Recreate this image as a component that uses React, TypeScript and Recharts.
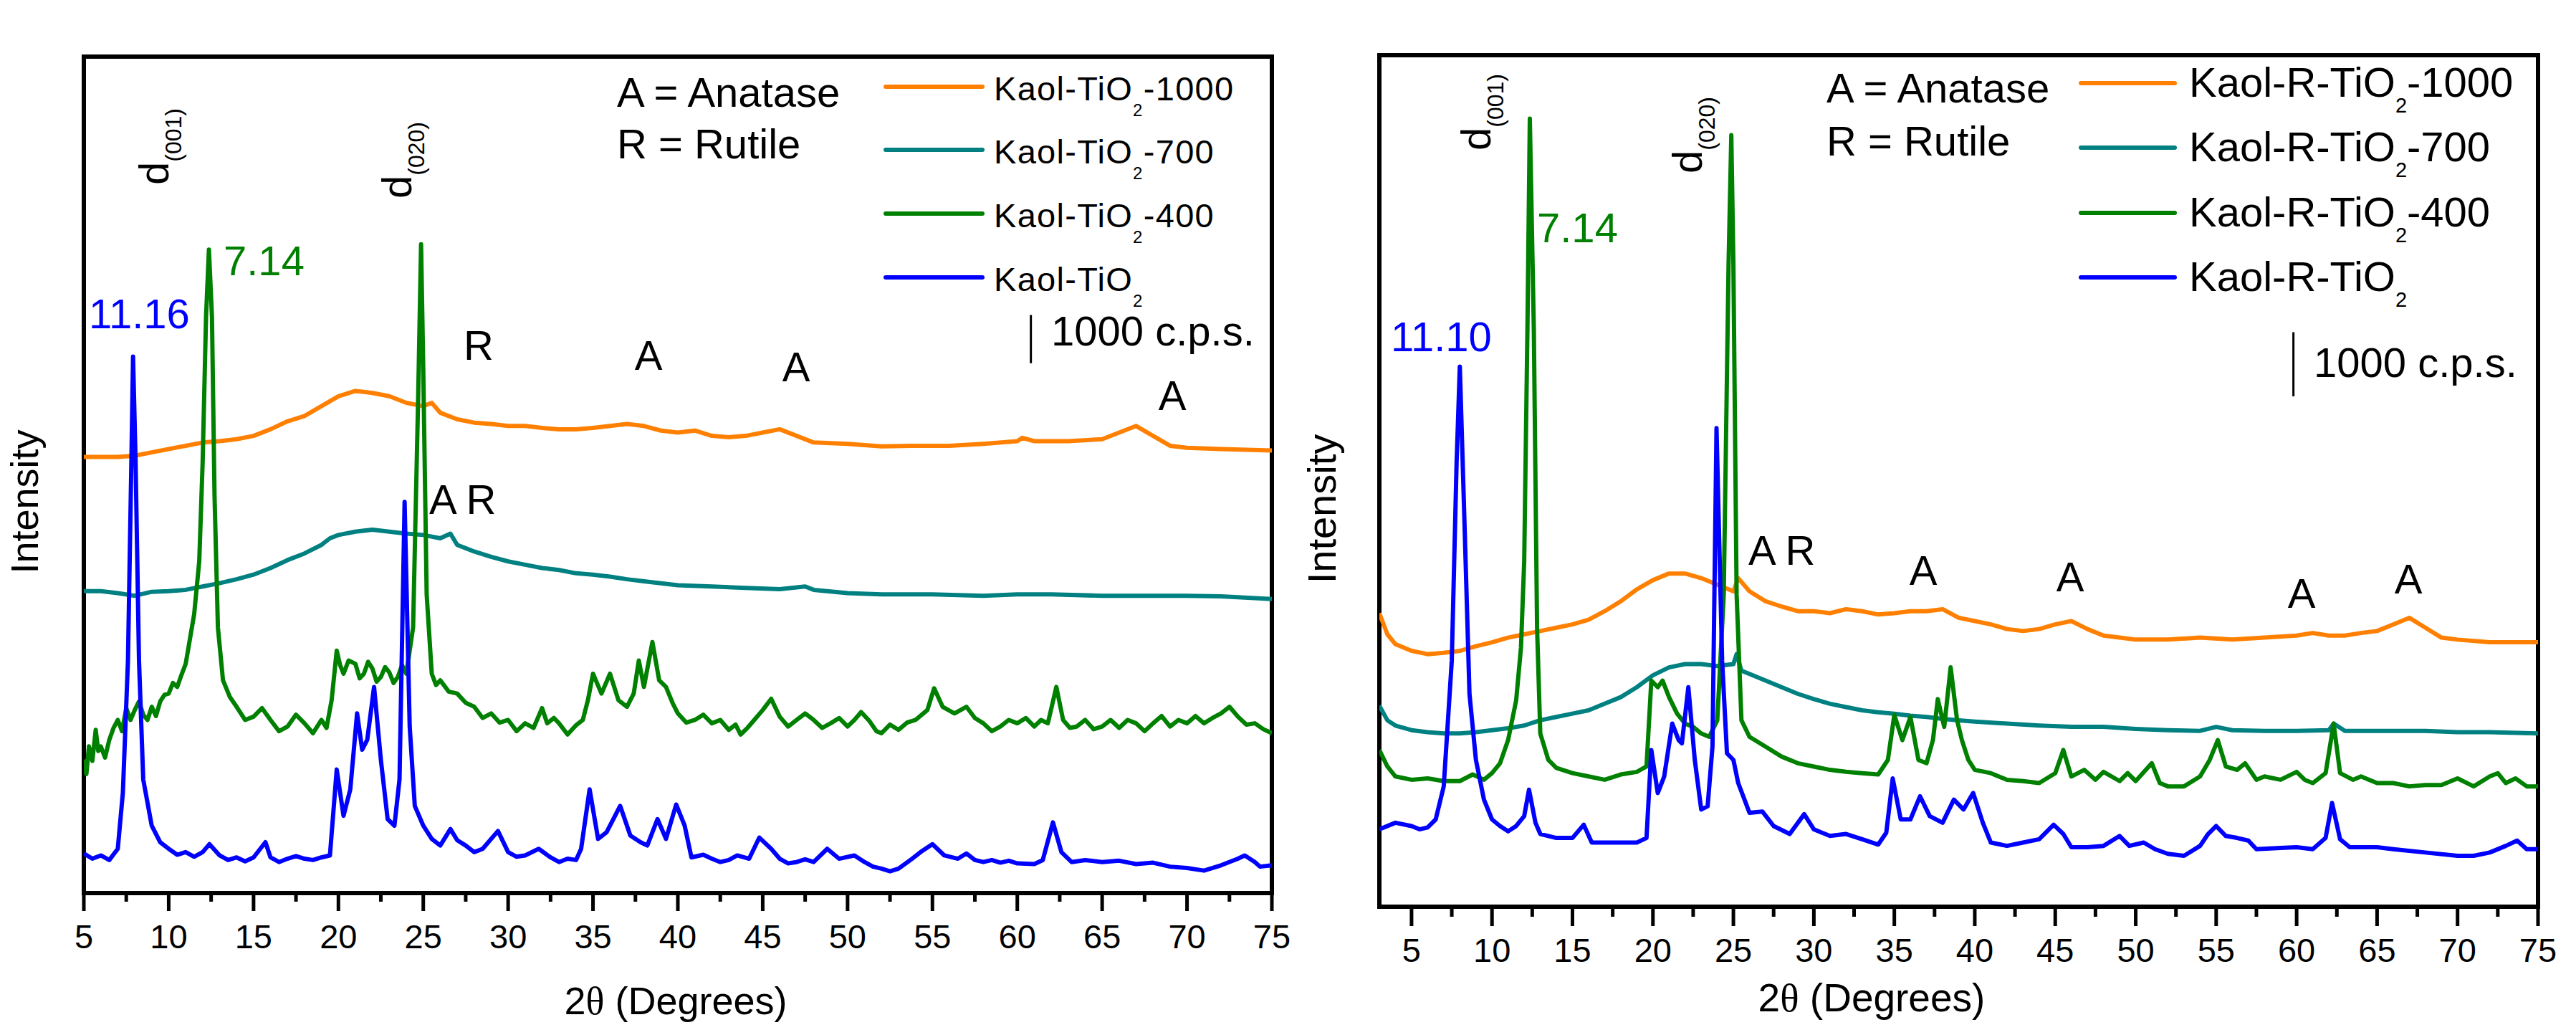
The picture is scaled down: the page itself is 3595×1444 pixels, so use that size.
import React from "react";
import { LineChart, Line, XAxis, YAxis, ReferenceArea, ReferenceLine } from "recharts";

type P = [number, number];

// ---------- Left panel (Kaol-TiO2 series), intensity in arbitrary units ----------
const leftBlue: P[] = [
  [5, 60], [5.5, 52], [6, 57], [6.5, 50], [7, 67], [7.3, 152], [7.6, 352], [7.8, 652], [7.9, 812], [8.05, 652], [8.25, 352], [8.5, 172],
  [9, 102], [9.5, 77], [10, 67], [10.5, 58], [11, 62], [11.5, 55], [12, 62], [12.4, 74], [13, 57], [13.5, 50], [14, 54], [14.5, 48], [15, 54], [15.7, 77],
  [16, 54], [16.5, 47], [17, 52], [17.5, 56], [18, 52], [18.5, 50], [19, 54], [19.5, 57], [19.9, 187], [20.3, 117], [20.7, 157], [21.1, 272], [21.4, 217],
  [21.7, 232], [22.1, 312], [22.5, 202], [22.9, 112], [23.3, 102], [23.6, 172], [23.9, 592], [24.2, 252], [24.5, 132], [25, 102],
  [25.5, 82], [26, 72], [26.6, 97], [27, 80], [27.5, 72], [28, 62], [28.5, 67], [29.4, 94], [30, 62], [30.5, 55], [31, 57], [31.8, 67],
  [32.5, 54], [33, 47], [33.5, 52], [34, 50], [34.3, 67], [34.8, 157], [35.3, 82], [35.8, 92], [36.6, 132], [37.2, 87], [37.8, 77], [38.2, 72],
  [38.8, 112], [39.3, 82], [39.9, 134], [40.4, 102], [40.8, 54], [41.5, 58], [42, 52], [42.5, 47], [43, 50], [43.5, 57], [44.2, 52], [44.8, 84],
  [45.5, 67], [46, 52], [46.5, 45], [47, 47], [47.5, 51], [48, 47], [48.8, 67], [49.5, 52], [50.4, 57], [51, 47], [51.5, 40], [52, 37], [52.5, 33], [53, 37],
  [53.8, 52], [54.3, 62], [55, 74], [55.7, 57], [56.5, 52], [57, 60], [57.5, 50], [58, 47], [58.5, 50], [59, 46], [59.5, 49], [60, 45],
  [61, 44], [61.5, 50], [62.1, 107], [62.6, 62], [63.2, 47], [64, 50], [65, 47], [66, 49], [67, 44], [68, 46], [69, 40], [70, 38], [71, 34], [72, 42],
  [73, 52], [73.4, 57], [74, 47], [74.3, 40], [75, 42],
];
const leftGreen: P[] = [
  [5, 202], [5.15, 180], [5.3, 222], [5.5, 200], [5.7, 247], [5.85, 215], [6, 222], [6.25, 205], [6.5, 232], [6.75, 250],
  [7, 262], [7.25, 245], [7.5, 280], [7.75, 262], [8, 277], [8.25, 290], [8.5, 270], [8.75, 262], [9, 282], [9.25, 268],
  [9.5, 290], [9.75, 300], [10, 302], [10.25, 318], [10.5, 312], [10.75, 330], [11, 347], [11.5, 422], [11.8, 502], [12, 652],
  [12.2, 872], [12.37, 974], [12.55, 872], [12.7, 602], [12.9, 402], [13.2, 322], [13.6, 297], [14, 282], [14.5, 262], [15, 267],
  [15.5, 280], [16, 262], [16.5, 245], [17, 252], [17.5, 270], [18, 257], [18.5, 242], [19, 262], [19.3, 250], [19.6, 292],
  [19.9, 367], [20.1, 345], [20.3, 332], [20.6, 352], [21, 347], [21.25, 325], [21.5, 332], [21.75, 350], [22, 340], [22.25, 320],
  [22.5, 327], [22.75, 342], [23, 334], [23.25, 318], [23.5, 327], [23.75, 345], [24, 332], [24.4, 402], [24.7, 752], [24.87, 982],
  [25, 792], [25.2, 452], [25.5, 332], [25.75, 315], [26, 322], [26.5, 305], [27, 302], [27.5, 288], [28, 282], [28.5, 265],
  [29, 272], [29.5, 258], [30, 262], [30.5, 245], [31, 257], [31.5, 250], [32, 280], [32.3, 257], [32.7, 265], [33, 257],
  [33.5, 240], [34, 254], [34.4, 262], [34.7, 292], [35, 332], [35.5, 302], [36, 332], [36.5, 292], [37, 282], [37.4, 302],
  [37.7, 352], [38, 312], [38.5, 380], [38.9, 322], [39.3, 312], [39.7, 287], [40, 272], [40.5, 258], [41, 262], [41.5, 270],
  [42, 257], [42.5, 262], [43, 247], [43.4, 255], [43.7, 240], [44.1, 250], [44.5, 262], [45, 277], [45.5, 294], [46, 267],
  [46.5, 252], [47, 262], [47.5, 272], [48, 262], [48.5, 250], [49, 257], [49.5, 265], [50, 252], [50.4, 262], [50.8, 274],
  [51.3, 260], [51.7, 245], [52, 242], [52.5, 255], [53, 247], [53.5, 258], [54, 262], [54.7, 277], [55.1, 310], [55.6, 282],
  [56.3, 272], [57, 282], [57.5, 265], [58, 257], [58.5, 245], [59, 252], [59.5, 262], [60, 257], [60.5, 265], [61, 252],
  [61.4, 262], [61.8, 257], [62.3, 312], [62.7, 262], [63.1, 250], [63.5, 252], [64, 262], [64.5, 248], [65, 252], [65.5, 262],
  [66, 250], [66.5, 262], [67, 257], [67.5, 245], [68, 257], [68.5, 268], [69, 252], [69.5, 262], [70, 257], [70.5, 268],
  [71, 257], [71.5, 265], [72, 272], [72.5, 282], [73, 267], [73.5, 255], [74, 257], [74.5, 248], [75, 242],
];
const leftTeal: P[] = [
  [5, 457], [6, 457], [7, 454], [8, 450], [9, 456], [10, 457], [11, 459], [12, 464], [13, 469], [14, 475],
  [15, 482], [16, 492], [17, 504], [18, 514], [19, 527], [19.5, 537], [20, 542], [21, 547], [22, 550], [23, 547],
  [24, 544], [25, 542], [26, 537], [26.6, 544], [27, 527], [28, 517], [29, 509], [30, 502], [31, 497], [32, 492],
  [33, 489], [34, 484], [35, 482], [36, 479], [37, 475], [38, 472], [39, 469], [40, 466], [42, 464], [44, 462],
  [46, 460], [47.5, 464], [48, 459], [50, 454], [52, 452], [55, 452], [58, 450], [60, 452], [62, 452], [65, 450],
  [68, 450], [70, 450], [72, 449], [75, 445],
];
const leftOrange: P[] = [
  [5, 660], [6, 660], [7, 660], [8, 662], [9, 667], [10, 672], [11, 677], [12, 682], [13, 684], [14, 687],
  [15, 692], [16, 702], [17, 714], [18, 722], [19, 737], [20, 752], [21, 760], [22, 757], [23, 752], [24, 742],
  [25, 737], [25.5, 742], [26, 727], [27, 717], [28, 712], [29, 710], [30, 707], [31, 707], [32, 704], [33, 702],
  [34, 702], [35, 704], [36, 707], [37, 710], [38, 707], [39, 700], [40, 697], [41, 700], [42, 692], [43, 690],
  [44, 692], [45, 697], [46, 702], [47, 692], [48, 682], [50, 680], [52, 676], [54, 677], [56, 677], [58, 680],
  [60, 684], [60.3, 689], [61, 684], [63, 684], [65, 687], [66, 697], [67, 707], [68, 692], [69, 677], [70, 674],
  [72, 672], [75, 670],
];

// ---------- Right panel (Kaol-R-TiO2 series) ----------
const rightBlue: P[] = [
  [3, 117], [4, 127], [5, 122], [5.5, 117], [6, 120], [6.5, 132], [7, 182], [7.5, 372], [7.8, 672], [8, 817],
  [8.3, 572], [8.6, 322], [9, 222], [9.5, 162], [10, 132], [10.5, 122], [11, 114], [11.5, 122], [12, 137], [12.3, 177],
  [12.7, 127], [13, 110], [14, 104], [15, 104], [15.7, 124], [16.2, 97], [17, 97], [18, 97], [19, 97], [19.6, 104],
  [19.9, 237], [20.3, 172], [20.7, 197], [21.2, 277], [21.6, 252], [21.8, 247], [22.2, 332], [22.6, 222], [23, 147], [23.4, 152],
  [23.7, 242], [23.95, 724], [24.3, 372], [24.6, 232], [25, 222], [25.3, 187], [26, 142], [26.8, 144], [27.5, 122], [28.5, 110],
  [29.4, 140], [30, 117], [31, 107], [32, 110], [33, 102], [34, 94], [34.5, 112], [34.9, 194], [35.4, 132], [36, 132],
  [36.6, 167], [37.2, 137], [38, 127], [38.7, 162], [39.3, 147], [39.9, 172], [40.5, 127], [41, 97], [42, 92], [43, 97],
  [44, 102], [44.9, 124], [45.5, 110], [46, 90], [47, 90], [48, 92], [49, 107], [49.6, 92], [50.5, 97], [51.2, 87],
  [52, 80], [53, 77], [54, 92], [54.5, 110], [55, 122], [55.6, 107], [56.3, 104], [57, 100], [57.5, 87], [59, 89],
  [60, 90], [61, 87], [61.8, 104], [62.2, 157], [62.7, 102], [63.3, 90], [65, 90], [66, 87], [68, 82], [70, 77],
  [71, 77], [72, 82], [73, 92], [73.7, 100], [74.3, 87], [75, 87],
];
const rightGreen: P[] = [
  [3, 237], [3.5, 212], [4, 197], [5, 192], [6, 194], [7, 190], [8, 190], [8.8, 200], [9.5, 192], [10, 202],
  [10.5, 217], [11, 252], [11.5, 312], [11.8, 392], [12, 522], [12.2, 872], [12.35, 1192], [12.6, 872], [12.8, 422], [13, 262],
  [13.5, 222], [14, 210], [15, 202], [16, 197], [17, 192], [18, 200], [19, 204], [19.6, 212], [19.9, 342], [20.3, 332],
  [20.6, 342], [21, 317], [21.5, 292], [22, 277], [22.5, 272], [23, 262], [23.5, 257], [24, 282], [24.4, 472], [24.7, 972],
  [24.87, 1167], [25, 972], [25.2, 472], [25.5, 282], [26, 257], [27, 242], [28, 227], [29, 217], [30, 212], [31, 207],
  [32, 204], [33, 202], [34, 200], [34.6, 222], [35, 290], [35.5, 252], [36, 287], [36.5, 222], [37, 217], [37.4, 252],
  [37.7, 314], [38.1, 272], [38.5, 362], [38.9, 282], [39.2, 252], [39.6, 222], [40, 207], [41, 202], [42, 192], [43, 190],
  [44, 187], [45, 202], [45.5, 237], [46, 197], [46.8, 207], [47.5, 192], [48, 204], [49, 190], [49.5, 202], [50, 190],
  [51, 217], [51.5, 187], [52, 182], [53, 182], [54, 197], [54.6, 222], [55.1, 252], [55.6, 212], [56.3, 207], [56.8, 217],
  [57.5, 192], [58, 197], [59, 192], [60, 204], [60.5, 192], [61, 187], [61.8, 202], [62.3, 277], [62.7, 202], [63.5, 192],
  [64, 197], [65, 187], [66, 187], [67, 182], [68, 184], [69, 184], [70, 194], [71, 182], [72, 197], [72.5, 202],
  [73, 187], [73.6, 194], [74.3, 182], [75, 182],
];
const rightTeal: P[] = [
  [3, 304], [3.5, 282], [4, 274], [5, 267], [6, 264], [7, 262], [8, 262], [9, 264], [10, 267], [11, 270],
  [12, 274], [13, 282], [14, 287], [15, 292], [16, 297], [17, 307], [18, 317], [19, 332], [20, 350], [21, 362],
  [22, 367], [23, 367], [24, 364], [25, 367], [25.2, 382], [25.5, 357], [26, 352], [27, 342], [28, 332], [29, 322],
  [30, 314], [31, 307], [32, 302], [33, 297], [34, 294], [35, 292], [36, 289], [37, 287], [38, 284], [39, 282],
  [40, 280], [42, 277], [44, 274], [46, 272], [48, 272], [50, 269], [52, 267], [54, 266], [55, 272], [56, 267],
  [58, 266], [60, 266], [62, 267], [62.3, 277], [63, 266], [65, 266], [68, 266], [70, 264], [72, 264], [75, 262],
];
const rightOrange: P[] = [
  [3, 444], [3.5, 412], [4, 397], [5, 387], [6, 382], [7, 384], [8, 387], [9, 394], [10, 400], [11, 407],
  [12, 412], [13, 417], [14, 422], [15, 427], [16, 434], [17, 447], [18, 462], [19, 480], [20, 494], [21, 504],
  [22, 504], [23, 497], [24, 487], [25, 477], [25.3, 497], [26, 477], [27, 462], [28, 454], [29, 447], [30, 447],
  [31, 444], [32, 450], [33, 447], [34, 442], [35, 444], [36, 447], [37, 447], [38, 450], [39, 437], [40, 432],
  [41, 427], [42, 420], [43, 417], [44, 420], [45, 427], [46, 432], [47, 420], [48, 410], [49, 407], [50, 404],
  [52, 404], [54, 407], [56, 404], [58, 407], [60, 410], [61, 414], [62, 410], [63, 410], [64, 414], [65, 417],
  [66, 427], [67, 437], [68, 422], [69, 407], [70, 404], [72, 400], [75, 400],
];

const leftTicks = [5, 7.5, 10, 12.5, 15, 17.5, 20, 22.5, 25, 27.5, 30, 32.5, 35, 37.5, 40, 42.5, 45, 47.5, 50, 52.5, 55, 57.5, 60, 62.5, 65, 67.5, 70, 72.5, 75];
const rightTicks = [5, 7.5, 10, 12.5, 15, 17.5, 20, 22.5, 25, 27.5, 30, 32.5, 35, 37.5, 40, 42.5, 45, 47.5, 50, 52.5, 55, 57.5, 60, 62.5, 65, 67.5, 70, 72.5, 75];

const COLORS = { orange: "#FF8000", teal: "#008080", green: "#008000", blue: "#0000FF" };
const legendSuffixes = ["-1000", "-700", "-400", ""];

const FONT = "'Liberation Sans', Arial, Helvetica, sans-serif";
const SERIF = "'Liberation Serif', 'Times New Roman', serif";

const toPts = (a: P[]) => a.map(([x, y]) => ({ x, y }));

const makeTick = (major: number, minor: number) => (props: any) => {
  const { x, y, payload } = props;
  const v = payload.value as number;
  const isMajor = v % 5 === 0;
  return (
    <g>
      <line x1={x} x2={x} y1={y} y2={y + (isMajor ? major : minor)} stroke="#000" strokeWidth={5} />
      {isMajor && (
        <text x={x} y={y + 77} textAnchor="middle" fontFamily={FONT} fontSize={47} fill="#000">
          {v}
        </text>
      )}
    </g>
  );
};

type PanelProps = {
  series: { data: P[]; color: string }[];
  xMin: number;
  yMax: number;
  ticks: number[];
  width: number;
  margin: { top: number; right: number; bottom: number; left: number };
  tickMajor: number;
  tickMinor: number;
  bar: { x: number; y1: number; y2: number };
};

const Panel = ({ series, xMin, yMax, ticks, width, margin, tickMajor, tickMinor, bar }: PanelProps) => (
  <LineChart width={width} height={1444} margin={margin}>
    <XAxis
      type="number"
      dataKey="x"
      domain={[xMin, 75]}
      allowDataOverflow
      ticks={ticks}
      interval={0}
      tickSize={0}
      tickMargin={0}
      tickLine={false}
      axisLine={false}
      height={120}
      tick={makeTick(tickMajor, tickMinor)}
    />
    <YAxis type="number" domain={[0, yMax]} allowDataOverflow hide />
    {series.map((s, i) => (
      <Line
        key={i}
        data={toPts(s.data)}
        dataKey="y"
        type="linear"
        stroke={s.color}
        strokeWidth={6}
        strokeLinejoin="round"
        dot={false}
        activeDot={false}
        isAnimationActive={false}
      />
    ))}
    <ReferenceLine
      segment={[{ x: bar.x, y: bar.y1 }, { x: bar.x, y: bar.y2 }]}
      stroke="#000"
      strokeWidth={3}
    />
    <ReferenceArea x1={xMin} x2={75} y1={0} y2={yMax} fill="none" stroke="#000" strokeWidth={6} />
  </LineChart>
);

const DLabel = ({ x, y, sub }: { x: number; y: number; sub: string }) => (
  <text transform={`translate(${x},${y}) rotate(-90)`} fontFamily={FONT} fontSize={58} fill="#000">
    d
    <tspan fontSize={32} dy={18}>
      {sub}
    </tspan>
  </text>
);

const T = ({ x, y, children, color = "#000", size = 58, anchor = "start" }: any) => (
  <text x={x} y={y} fontFamily={FONT} fontSize={size} fill={color} textAnchor={anchor}>
    {children}
  </text>
);

const legendColors = [COLORS.orange, COLORS.teal, COLORS.green, COLORS.blue];

export default function App() {
  const leftSeries = [
    { data: leftOrange, color: COLORS.orange },
    { data: leftTeal, color: COLORS.teal },
    { data: leftGreen, color: COLORS.green },
    { data: leftBlue, color: COLORS.blue },
  ];
  const rightSeries = [
    { data: rightOrange, color: COLORS.orange },
    { data: rightTeal, color: COLORS.teal },
    { data: rightGreen, color: COLORS.green },
    { data: rightBlue, color: COLORS.blue },
  ];
  const leftRows = [121, 209, 298, 387];
  const rightRows = [116, 206, 297, 387];
  return (
    <div style={{ position: "absolute", left: 0, top: 0, width: 3595, height: 1444, background: "#fff", overflow: "hidden" }}>
      <div style={{ position: "absolute", left: 0, top: 0 }}>
        <Panel
          series={leftSeries}
          xMin={5}
          yMax={1266}
          ticks={leftTicks}
          width={1800}
          margin={{ top: 79, right: 25, bottom: 78, left: 117 }}
          tickMajor={25}
          tickMinor={12}
          bar={{ x: 60.8, y1: 802, y2: 875 }}
        />
      </div>
      <div style={{ position: "absolute", left: 1800, top: 0 }}>
        <Panel
          series={rightSeries}
          xMin={3}
          yMax={1288}
          ticks={rightTicks}
          width={1795}
          margin={{ top: 77, right: 53, bottom: 59, left: 125 }}
          tickMajor={27}
          tickMinor={14}
          bar={{ x: 59.8, y1: 772, y2: 869 }}
        />
      </div>
      <svg width={3595} height={1444} style={{ position: "absolute", left: 0, top: 0, pointerEvents: "none" }}>
        {/* Left panel annotations */}
        <DLabel x={235} y={258} sub="(001)" />
        <DLabel x={574} y={277} sub="(020)" />
        <T x={124} y={458} color={COLORS.blue}>11.16</T>
        <T x={312} y={384} color={COLORS.green}>7.14</T>
        <T x={668} y={502} anchor="middle">R</T>
        <T x={905} y={516} anchor="middle">A</T>
        <T x={1111} y={532} anchor="middle">A</T>
        <T x={1636} y={572} anchor="middle">A</T>
        <T x={599} y={717}>A R</T>
        <T x={861} y={149}>A = Anatase</T>
        <T x={861} y={221}>R = Rutile</T>
        <T x={1467} y={482}>1000 c.p.s.</T>
        {leftRows.map((ry, i) => (
          <g key={i}>
            <line x1={1236} x2={1371} y1={ry} y2={ry} stroke={legendColors[i]} strokeWidth={6} strokeLinecap="round" />
            <text x={1387} y={ry + 19} fontFamily={FONT} fontSize={47} letterSpacing={1.3} fill="#000">
              Kaol-TiO
              <tspan fontSize={24} dy={22}>2</tspan>
              {legendSuffixes[i] && <tspan dy={-22} fontSize={47}>{legendSuffixes[i]}</tspan>}
            </text>
          </g>
        ))}
        <text transform="translate(53,700) rotate(-90)" fontFamily={FONT} fontSize={54} textAnchor="middle" fill="#000">
          Intensity
        </text>
        <text x={943} y={1415} fontFamily={FONT} fontSize={54} textAnchor="middle" fill="#000">
          2<tspan fontFamily={SERIF}>θ</tspan> (Degrees)
        </text>

        {/* Right panel annotations */}
        <DLabel x={2080} y={210} sub="(001)" />
        <DLabel x={2375} y={242} sub="(020)" />
        <T x={1941} y={490} color={COLORS.blue}>11.10</T>
        <T x={2145} y={338} color={COLORS.green}>7.14</T>
        <T x={2440} y={788}>A R</T>
        <T x={2684} y={816} anchor="middle">A</T>
        <T x={2889} y={825} anchor="middle">A</T>
        <T x={3212} y={848} anchor="middle">A</T>
        <T x={3361} y={828} anchor="middle">A</T>
        <T x={2549} y={143}>A = Anatase</T>
        <T x={2549} y={217}>R = Rutile</T>
        <T x={3229} y={526}>1000 c.p.s.</T>
        {rightRows.map((ry, i) => (
          <g key={i}>
            <line x1={2904} x2={3035} y1={ry} y2={ry} stroke={legendColors[i]} strokeWidth={6} strokeLinecap="round" />
            <text x={3055} y={ry + 19} fontFamily={FONT} fontSize={58} fill="#000">
              Kaol-R-TiO
              <tspan fontSize={29} dy={22}>2</tspan>
              {legendSuffixes[i] && <tspan dy={-22} fontSize={58}>{legendSuffixes[i]}</tspan>}
            </text>
          </g>
        ))}
        <text transform="translate(1864,710) rotate(-90)" fontFamily={FONT} fontSize={56} textAnchor="middle" fill="#000">
          Intensity
        </text>
        <text x={2612} y={1411} fontFamily={FONT} fontSize={55} textAnchor="middle" fill="#000">
          2<tspan fontFamily={SERIF}>θ</tspan> (Degrees)
        </text>
      </svg>
    </div>
  );
}
